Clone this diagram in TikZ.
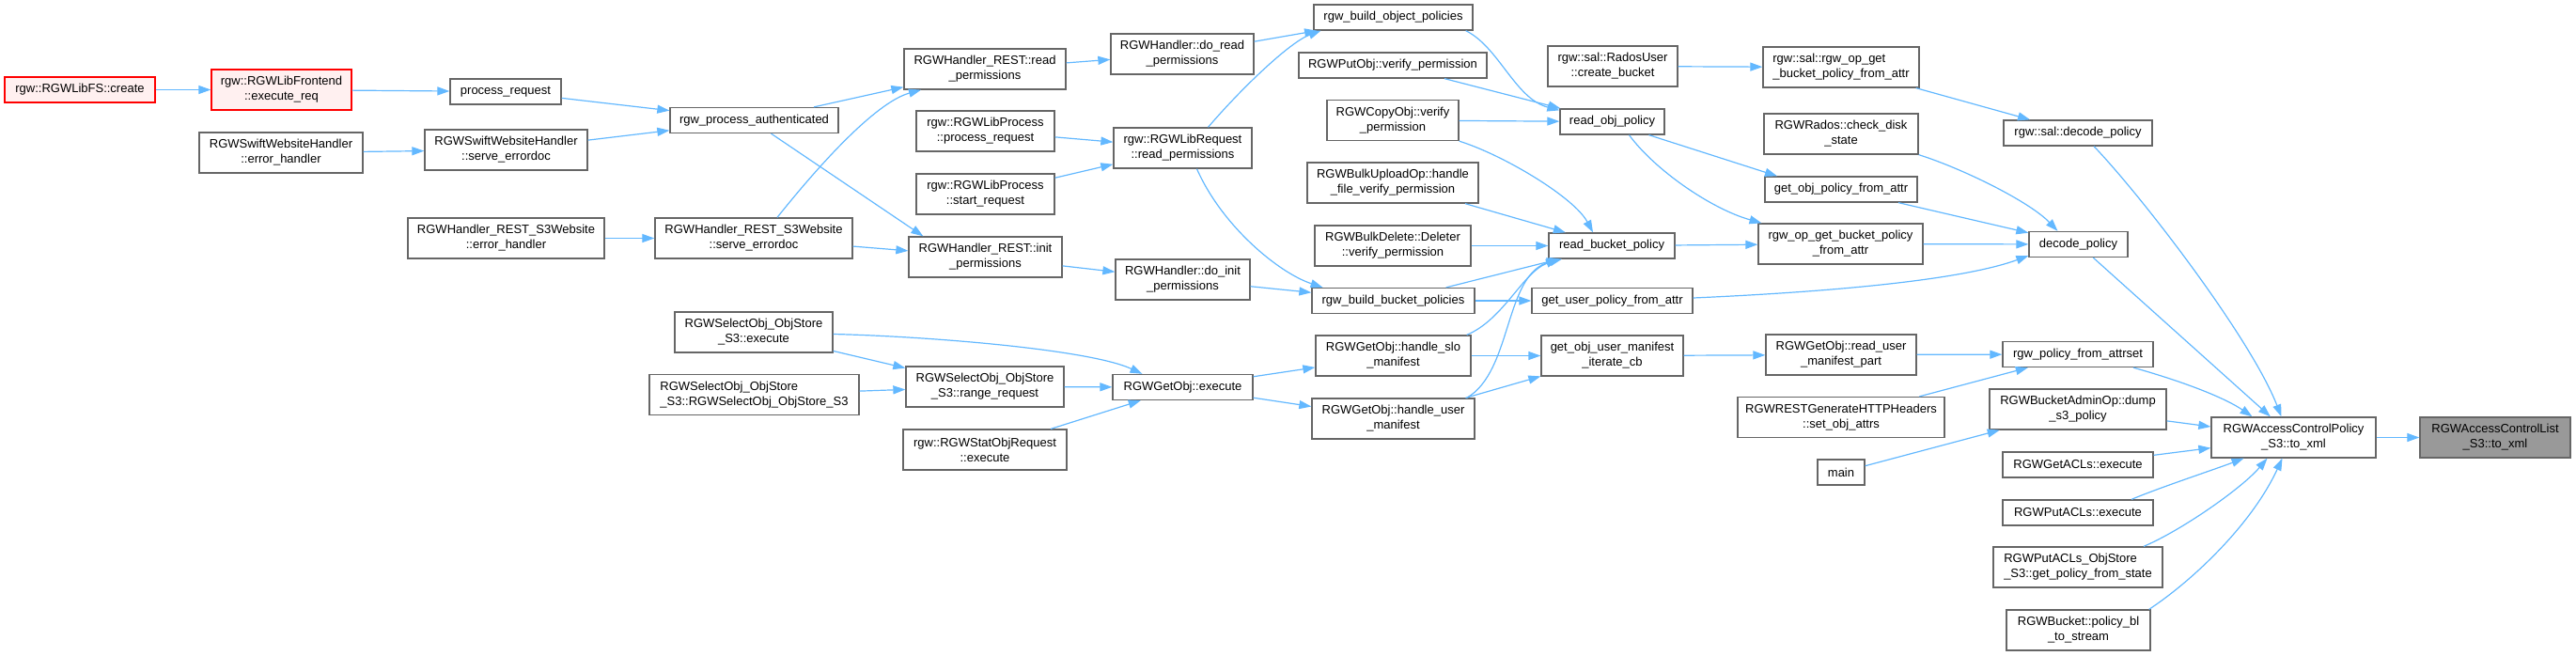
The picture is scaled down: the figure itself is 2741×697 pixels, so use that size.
\documentclass[tikz,border=0pt]{standalone}
\usepackage{fontspec}
\setmainfont{Liberation Sans}
\usetikzlibrary{arrows.meta}
\definecolor{edgec}{HTML}{63B8FF}
\definecolor{nodeb}{HTML}{666666}
\definecolor{rootf}{HTML}{999999}
\definecolor{redf}{HTML}{FFF0F0}
\tikzset{
  box/.style={draw=nodeb, fill=white, line width=1.3pt, inner sep=0pt, font=\fontsize{13}{16}\selectfont, align=center, text=black},
  boxa/.style={box, minimum height=27pt},
  boxb/.style={box, minimum height=43pt},
  redbox/.style={draw=red, fill=redf},
  rootbox/.style={fill=rootf},
  edge/.style={draw=edgec, line width=1.2pt, -{Triangle[length=13pt,width=9pt]}},
}
\begin{document}
\begin{tikzpicture}[x=1pt,y=-1pt]
\useasboundingbox (0,0) rectangle (2741,697);
% column 1-2
\node[boxa,redbox,minimum width=160pt] (create) at (85,95.5) {rgw::RGWLibFS::create};
\node[boxb,redbox,minimum width=149pt] (execreq) at (299.5,95.5) {rgw::RGWLibFrontend\\::execute\_req};
\node[boxb,minimum width=174pt] (swifteh) at (299,162.5) {RGWSwiftWebsiteHandler\\::error\_handler};
\node[boxa,minimum width=118pt] (procreq) at (538,97.5) {process\_request};
\node[boxb,minimum width=173pt] (swiftse) at (538.5,159.5) {RGWSwiftWebsiteHandler\\::serve\_errordoc};
\node[boxb,minimum width=209pt] (s3weh) at (538.5,253.5) {RGWHandler\_REST\_S3Website\\::error\_handler};
% column 3
\node[boxa,minimum width=179pt] (rpa) at (802.5,128) {rgw\_process\_authenticated};
\node[boxb,minimum width=210pt] (s3wse) at (802,253.5) {RGWHandler\_REST\_S3Website\\::serve\_errordoc};
\node[boxb,minimum width=168pt] (selex) at (802,353.5) {RGWSelectObj\_ObjStore\\\_S3::execute};
\node[boxb,minimum width=223pt,align=left] (selctor) at (802.5,420) {RGWSelectObj\_ObjStore\\\_S3::RGWSelectObj\_ObjStore\_S3};
% column 4
\node[boxb,minimum width=172pt] (restrp) at (1048,73.5) {RGWHandler\_REST::read\\\_permissions};
\node[boxb,minimum width=147pt] (lppr) at (1048.5,139.5) {rgw::RGWLibProcess\\::process\_request};
\node[boxb,minimum width=147pt] (lpsr) at (1048.5,206.5) {rgw::RGWLibProcess\\::start\_request};
\node[boxb,minimum width=163pt] (restip) at (1048.5,273.5) {RGWHandler\_REST::init\\\_permissions};
\node[boxb,minimum width=168pt] (range) at (1048,411.5) {RGWSelectObj\_ObjStore\\\_S3::range\_request};
\node[boxb,minimum width=174pt] (statex) at (1048,478.5) {rgw::RGWStatObjRequest\\::execute};
% column 5
\node[boxb,minimum width=152pt] (dorp) at (1258,57.5) {RGWHandler::do\_read\\\_permissions};
\node[boxb,minimum width=147pt] (lrrp) at (1258.5,157.5) {rgw::RGWLibRequest\\::read\_permissions};
\node[boxb,minimum width=143pt] (doip) at (1258.5,297.5) {RGWHandler::do\_init\\\_permissions};
\node[boxa,minimum width=149pt] (getobjex) at (1258.5,412) {RGWGetObj::execute};
% column 6
\node[boxa,minimum width=169pt] (bop) at (1482.5,18.5) {rgw\_build\_object\_policies};
\node[boxa,minimum width=200pt] (putvp) at (1482,69.5) {RGWPutObj::verify\_permission};
\node[boxb,minimum width=140pt] (copyvp) at (1482,128) {RGWCopyObj::verify\\\_permission};
\node[boxb,minimum width=182pt] (bulkup) at (1482,194.5) {RGWBulkUploadOp::handle\\\_file\_verify\_permission};
\node[boxb,minimum width=166pt] (bulkdel) at (1482,261.5) {RGWBulkDelete::Deleter\\::verify\_permission};
\node[boxa,minimum width=173pt] (bbp) at (1482.5,320) {rgw\_build\_bucket\_policies};
\node[boxb,minimum width=165pt] (slo) at (1482.5,378.5) {RGWGetObj::handle\_slo\\\_manifest};
\node[boxb,minimum width=173pt] (um) at (1482.5,445.5) {RGWGetObj::handle\_user\\\_manifest};
% column 7
\node[boxb,minimum width=138pt] (radoscb) at (1716,70.5) {rgw::sal::RadosUser\\::create\_bucket};
\node[boxa,minimum width=111pt] (rop) at (1715.5,129.5) {read\_obj\_policy};
\node[boxa,minimum width=134pt] (rbp) at (1715,261.5) {read\_bucket\_policy};
\node[boxa,minimum width=171pt] (gupa) at (1715.5,320) {get\_user\_policy\_from\_attr};
\node[boxb,minimum width=151pt] (goum) at (1715.5,378.5) {get\_obj\_user\_manifest\\\_iterate\_cb};
% column 8
\node[boxb,minimum width=166pt,align=left] (salrog) at (1959,71.5) {rgw::sal::rgw\_op\_get\\\_bucket\_policy\_from\_attr};
\node[boxb,minimum width=164pt] (cds) at (1959,142.5) {RGWRados::check\_disk\\\_state};
\node[boxa,minimum width=162pt] (gopfa) at (1959,201.5) {get\_obj\_policy\_from\_attr};
\node[boxb,minimum width=175pt] (rogbpfa) at (1958.5,259.5) {rgw\_op\_get\_bucket\_policy\\\_from\_attr};
\node[boxb,minimum width=160pt] (rump) at (1959,377.5) {RGWGetObj::read\_user\\\_manifest\_part};
\node[boxb,minimum width=220pt] (restgen) at (1959,444) {RGWRESTGenerateHTTPHeaders\\::set\_obj\_attrs};
\node[boxa,minimum width=50pt] (main) at (1959,502.5) {main};
% column 9
\node[boxa,minimum width=158pt] (saldp) at (2211,141.5) {rgw::sal::decode\_policy};
\node[boxa,minimum width=105pt] (dp) at (2211.5,260) {decode\_policy};
\node[boxa,minimum width=160pt] (rpfa) at (2211,377) {rgw\_policy\_from\_attrset};
\node[boxb,minimum width=188pt] (dump) at (2211,435.5) {RGWBucketAdminOp::dump\\\_s3\_policy};
\node[boxa,minimum width=160pt] (getacls) at (2211,494.5) {RGWGetACLs::execute};
\node[boxa,minimum width=160pt] (putacls) at (2211,545.5) {RGWPutACLs::execute};
\node[boxb,minimum width=180pt,align=left] (putacls3) at (2211,603.5) {RGWPutACLs\_ObjStore\\\_S3::get\_policy\_from\_state};
\node[boxb,minimum width=153pt] (bucketpbl) at (2211.5,670.5) {RGWBucket::policy\_bl\\\_to\_stream};
% column 10-11
\node[boxb,minimum width=175pt] (acp) at (2440.5,465.5) {RGWAccessControlPolicy\\\_S3::to\_xml};
\node[boxb,rootbox,minimum width=160pt] (acl) at (2655,465.5) {RGWAccessControlList\\\_S3::to\_xml};

% edges
\draw[edge] (create) -- (execreq);
\draw[edge] (execreq) -- (procreq);
\draw[edge] (swifteh) -- (swiftse);
\draw[edge] (procreq) -- (rpa);
\draw[edge] (swiftse) -- (rpa);
\draw[edge] (s3weh) -- (s3wse);
\draw[edge] (rpa) -- (restrp);
\draw[edge] ([xshift=18pt]rpa.south) -- ([xshift=16pt]restip.north west);
\draw[edge] ([xshift=25pt]s3wse.north) .. controls (880,165) and (935,108) .. ([xshift=-68pt]restrp.south);
\draw[edge] (s3wse) -- (restip);
\draw[edge] (restrp) -- (dorp);
\draw[edge] (lppr) -- (lrrp);
\draw[edge] (lpsr) -- (lrrp);
\draw[edge] (restip) -- (doip);
\draw[edge] (dorp) -- (bop);
\draw[edge] ([xshift=27pt]lrrp.north) .. controls (1320,95) and (1372,45) .. ([xshift=-77pt]bop.south);
\draw[edge] ([xshift=15pt]lrrp.south) .. controls (1300,240) and (1360,290) .. ([xshift=-75pt]bbp.north);
\draw[edge] (doip) -- (bbp);
\draw[edge] ([yshift=-2pt]selex.east) .. controls (990,358) and (1160,372) .. ([xshift=-43pt]getobjex.north);
\draw[edge] (selex) -- (range);
\draw[edge] (selctor) -- (range);
\draw[edge] (range) -- (getobjex);
\draw[edge] (statex) -- (getobjex);
\draw[edge] (getobjex) -- (slo);
\draw[edge] (getobjex) -- (um);
\draw[edge] ([xshift=-8pt]bop.south east) .. controls (1595,50) and (1612,105) .. ([yshift=-2pt]rop.north west);
\draw[edge] (putvp) -- (rop);
\draw[edge] (copyvp) -- (rop);
\draw[edge] (copyvp.south east) .. controls (1600,165) and (1675,210) .. ([xshift=-20pt]rbp.north);
\draw[edge] (bulkup) -- (rbp);
\draw[edge] (bulkdel) -- (rbp);
\draw[edge] (bbp) -- (rbp);
\draw[edge] (bbp) -- (gupa);
\draw[edge] ([xshift=-5pt]slo.north east) .. controls (1600,340) and (1620,290) .. ([xshift=-57pt]rbp.south);
\draw[edge] ([xshift=-9pt]um.north east) .. controls (1610,395) and (1600,290) .. ([xshift=-53pt]rbp.south);
\draw[edge] (slo) -- (goum);
\draw[edge] (um) -- (goum);
\draw[edge] ([xshift=39pt]rop.south) -- ([xshift=-68pt]gopfa.north);
\draw[edge] ([xshift=18pt]rop.south) .. controls (1760,180) and (1820,222) .. ([xshift=-84pt]rogbpfa.north);
\draw[edge] (rbp) -- (rogbpfa);
\draw[edge] (radoscb) -- (salrog);
\draw[edge] (salrog) -- (saldp);
\draw[edge] (cds.south east) .. controls (2090,180) and (2160,215) .. ([xshift=-22pt]dp.north);
\draw[edge] (gopfa) -- (dp);
\draw[edge] (rogbpfa) -- (dp);
\draw[edge] ([yshift=3pt]gupa.east) .. controls (1960,310) and (2090,297) .. ([yshift=2pt]dp.south west);
\draw[edge] (goum) -- (rump);
\draw[edge] (rump) -- (rpfa);
\draw[edge] (restgen) -- (rpfa);
\draw[edge] (main) -- (dump);
\draw[edge] ([xshift=17pt]saldp.south) .. controls (2280,210) and (2395,360) .. ([xshift=-13pt]acp.north);
\draw[edge] (dp) -- (acp);
\draw[edge] ([xshift=59pt]rpfa.south) .. controls (2330,408) and (2370,425) .. ([xshift=-44pt]acp.north);
\draw[edge] (dump) -- (acp);
\draw[edge] (getacls) -- (acp);
\draw[edge] ([xshift=57pt]putacls.north) .. controls (2300,518) and (2355,500) .. ([xshift=-53pt]acp.south);
\draw[edge] ([xshift=70pt]putacls3.north) .. controls (2320,565) and (2385,520) .. ([xshift=-28pt]acp.south);
\draw[edge] ([xshift=-2pt]bucketpbl.north east) .. controls (2330,620) and (2395,560) .. ([xshift=-12pt]acp.south);
\draw[edge] (acp) -- (acl);
\end{tikzpicture}
\end{document}
